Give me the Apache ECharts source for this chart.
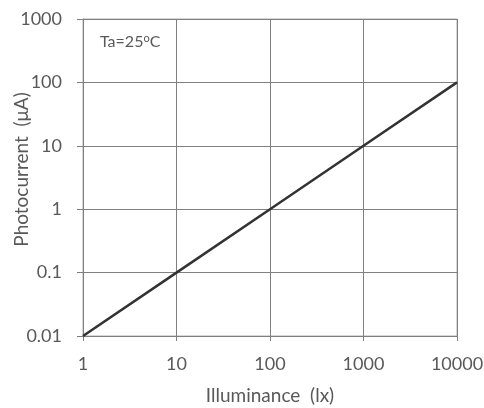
<!DOCTYPE html>
<html><head><meta charset="utf-8">
<script src="https://cdn.jsdelivr.net/npm/echarts@6/dist/echarts.min.js"></script>
<style>html,body{margin:0;padding:0;background:#fff}#c{width:484px;height:408px}</style>
</head><body><div id="c"></div>
<script>
const illuminance = [1, 10, 100, 1000, 10000];
const photocurrent = [0.01, 0.1, 1, 10, 100];
const xTicks = ['1', '10', '100', '1000', '10000'];
const yTicks = ['0.01', '0.1', '1', '10', '100', '1000'];
const FONT = 'Lato, "Open Sans", sans-serif';
const TXT = '#595959';
const chart = echarts.init(document.getElementById('c'), null, {renderer: 'canvas'});
const fmt = (v) => {
  const e = Math.round(Math.log10(v));
  return v >= 1 ? String(Math.round(v)) : v.toFixed(-e);
};
chart.setOption({
  animation: false,
  grid: {left: 83, right: 27, top: 19, bottom: 72, show: true, borderColor: '#b0b0b0', borderWidth: 1,
         containLabel: false, outerBoundsMode: 'none'},
  xAxis: {
    type: 'log', logBase: 10, min: 1, max: 10000,
    name: 'Illuminance  (lx)', nameLocation: 'middle', nameGap: 50, nameMoveOverlap: false,
    nameTextStyle: {color: TXT, fontFamily: FONT, fontSize: 19},
    axisLine: {show: true, lineStyle: {color: '#7f7f7f', width: 1}},
    axisTick: {show: true, length: 5, inside: false, lineStyle: {color: '#7f7f7f'}},
    minorTick: {show: false},
    axisLabel: {color: TXT, fontFamily: FONT, fontSize: 18, margin: 19, formatter: fmt},
    splitLine: {show: true, lineStyle: {color: '#808080', width: 1}}
  },
  yAxis: {
    type: 'log', logBase: 10, min: 0.01, max: 1000,
    name: 'Photocurrent  (\u03bcA)', nameLocation: 'middle', nameGap: 52, nameMoveOverlap: false,
    nameTextStyle: {color: TXT, fontFamily: FONT, fontSize: 19, padding: [0, 0, 0, 16]},
    axisLine: {show: true, lineStyle: {color: '#7f7f7f', width: 1}},
    axisTick: {show: true, length: 6, inside: false, lineStyle: {color: '#7f7f7f'}},
    axisLabel: {color: TXT, fontFamily: FONT, fontSize: 18, margin: 21, formatter: fmt},
    splitLine: {show: true, lineStyle: {color: '#808080', width: 1}}
  },
  graphic: [{
    type: 'text', left: 100, top: 33,
    style: {
      text: 'Ta=25{s|o}C',
      rich: {s: {fontSize: 11, verticalAlign: 'top', fill: TXT, fontFamily: FONT, padding: [0,0,7,0]}},
      fill: TXT, fontFamily: FONT, fontSize: 16
    }
  }],
  series: [{
    type: 'line', symbol: 'none',
    data: illuminance.map((x, i) => [x, photocurrent[i]]),
    lineStyle: {color: '#333333', width: 2.5}
  }]
});
</script></body></html>
